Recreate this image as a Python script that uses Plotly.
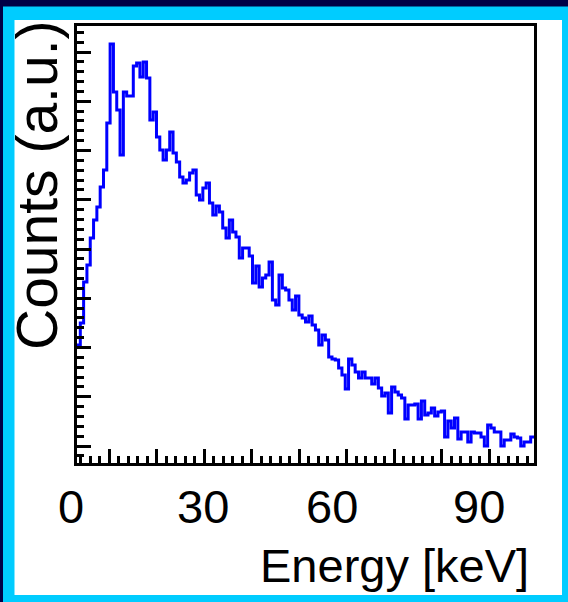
import numpy as np
import plotly.graph_objects as go

# ---------------- data ----------------
E_MIN, E_MAX = 0.0, 100.0
counts = [
    1200, 1420, 1830, 2000, 2270, 2450, 2580, 2780, 2950, 3420,
    4210, 3730, 3550, 3100, 3730, 3690, 3690, 3990, 4020, 3880,
    4030, 3870, 3450, 3530, 3280, 3150, 3050, 3150, 3330, 3120,
    3030, 2880, 2820, 2850, 2920, 2950, 2700, 2650, 2770, 2820,
    2620, 2500, 2590, 2530, 2370, 2270, 2450, 2330, 2280, 2070,
    2170, 2170, 2090, 1820, 1990, 1780, 1870, 1900, 2030, 1650,
    1600, 1900, 1770, 1750, 1650, 1550, 1690, 1500, 1470, 1430,
    1490, 1400, 1350, 1200, 1300, 1250, 1080, 1060, 1050, 970,
    900, 760, 1060, 1000, 930, 870, 930, 870, 870, 810,
    870, 770, 690, 720, 520, 780, 730, 700, 670, 460,
    600, 600, 610, 460, 640, 500, 520, 570, 490, 530,
    540, 280, 440, 370, 470, 260, 330, 330, 230, 330,
    320, 320, 280, 190, 400, 370, 330, 330, 190, 250,
    250, 310, 280, 270, 190, 230, 230, 280,
]
x_tick_labels = ["0", "30", "60", "90"]
x_title = "Energy [keV]"
y_title = "Counts (a.u.)"

# ---------------- layout constants ----------------
W, H = 568, 602
L, R, T, B = 77, 34, 26, 139
pw, ph = W - L - R, H - T - B

def px(xpix):
    return (xpix - L) / pw

def py(ypix):
    return (H - B - ypix) / ph

label_px = [70.7, 202.7, 332.3, 479.3]   # horizontal centres of the tick labels

edges = np.linspace(E_MIN, E_MAX, len(counts) + 1)
yvals = counts + [counts[-1]]

FONT = "Liberation Sans, Arial, Helvetica, sans-serif"

fig = go.Figure()
fig.add_trace(go.Scatter(
    x=edges, y=yvals, mode="lines",
    line=dict(color="#0000FF", width=3, shape="hv"),
    hoverinfo="skip", showlegend=False,
))

shapes = [
    dict(type="rect", xref="paper", yref="paper", layer="below",
         x0=px(0), x1=px(W), y0=py(6.5), y1=py(0),
         fillcolor="#000046", line=dict(width=0)),
    dict(type="rect", xref="paper", yref="paper", layer="below",
         x0=px(0), x1=px(3), y0=py(H), y1=py(0),
         fillcolor="#000046", line=dict(width=0)),
    dict(type="rect", xref="paper", yref="paper", layer="below",
         x0=px(14.5), x1=px(562), y0=py(595), y1=py(20),
         fillcolor="white", line=dict(width=0)),
]

annotations = []
for lab, lp in zip(x_tick_labels, label_px):
    annotations.append(dict(
        x=px(lp), xref="paper", y=py(506), yref="paper", text=lab,
        showarrow=False, xanchor="center", yanchor="middle",
        font=dict(family=FONT, size=47, color="black")))
annotations.append(dict(
    x=px(531), xref="paper", y=py(565), yref="paper", text=x_title,
    showarrow=False, xanchor="right", yanchor="middle",
    font=dict(family=FONT, size=47, color="black")))
annotations.append(dict(
    x=px(37), xref="paper", y=py(186), yref="paper", text=y_title,
    showarrow=False, xanchor="center", yanchor="middle", textangle=-90,
    font=dict(family=FONT, size=57, color="black")))

fig.update_layout(
    width=W, height=H,
    margin=dict(l=L, r=R, t=T, b=B, pad=0),
    paper_bgcolor="#00CCFF", plot_bgcolor="white",
    shapes=shapes, annotations=annotations,
    xaxis=dict(
        range=[E_MIN, E_MAX], showgrid=False, zeroline=False,
        showline=True, linewidth=3, linecolor="black", mirror=True,
        ticks="inside", ticklen=14, tickwidth=3, tickcolor="black",
        tick0=7.04, dtick=10.4, showticklabels=False,
        minor=dict(ticks="inside", ticklen=7, tickwidth=3,
                   tickcolor="black", tick0=7.04, dtick=2.08),
    ),
    yaxis=dict(
        range=[20, 4390], showgrid=False, zeroline=False,
        showline=True, linewidth=3, linecolor="black", mirror=True,
        ticks="inside", ticklen=14, tickwidth=3, tickcolor="black",
        tick0=190, dtick=492.5, showticklabels=False,
        minor=dict(ticks="inside", ticklen=7, tickwidth=3,
                   tickcolor="black", tick0=190, dtick=98.5),
    ),
)

fig.write_html("out.html")
